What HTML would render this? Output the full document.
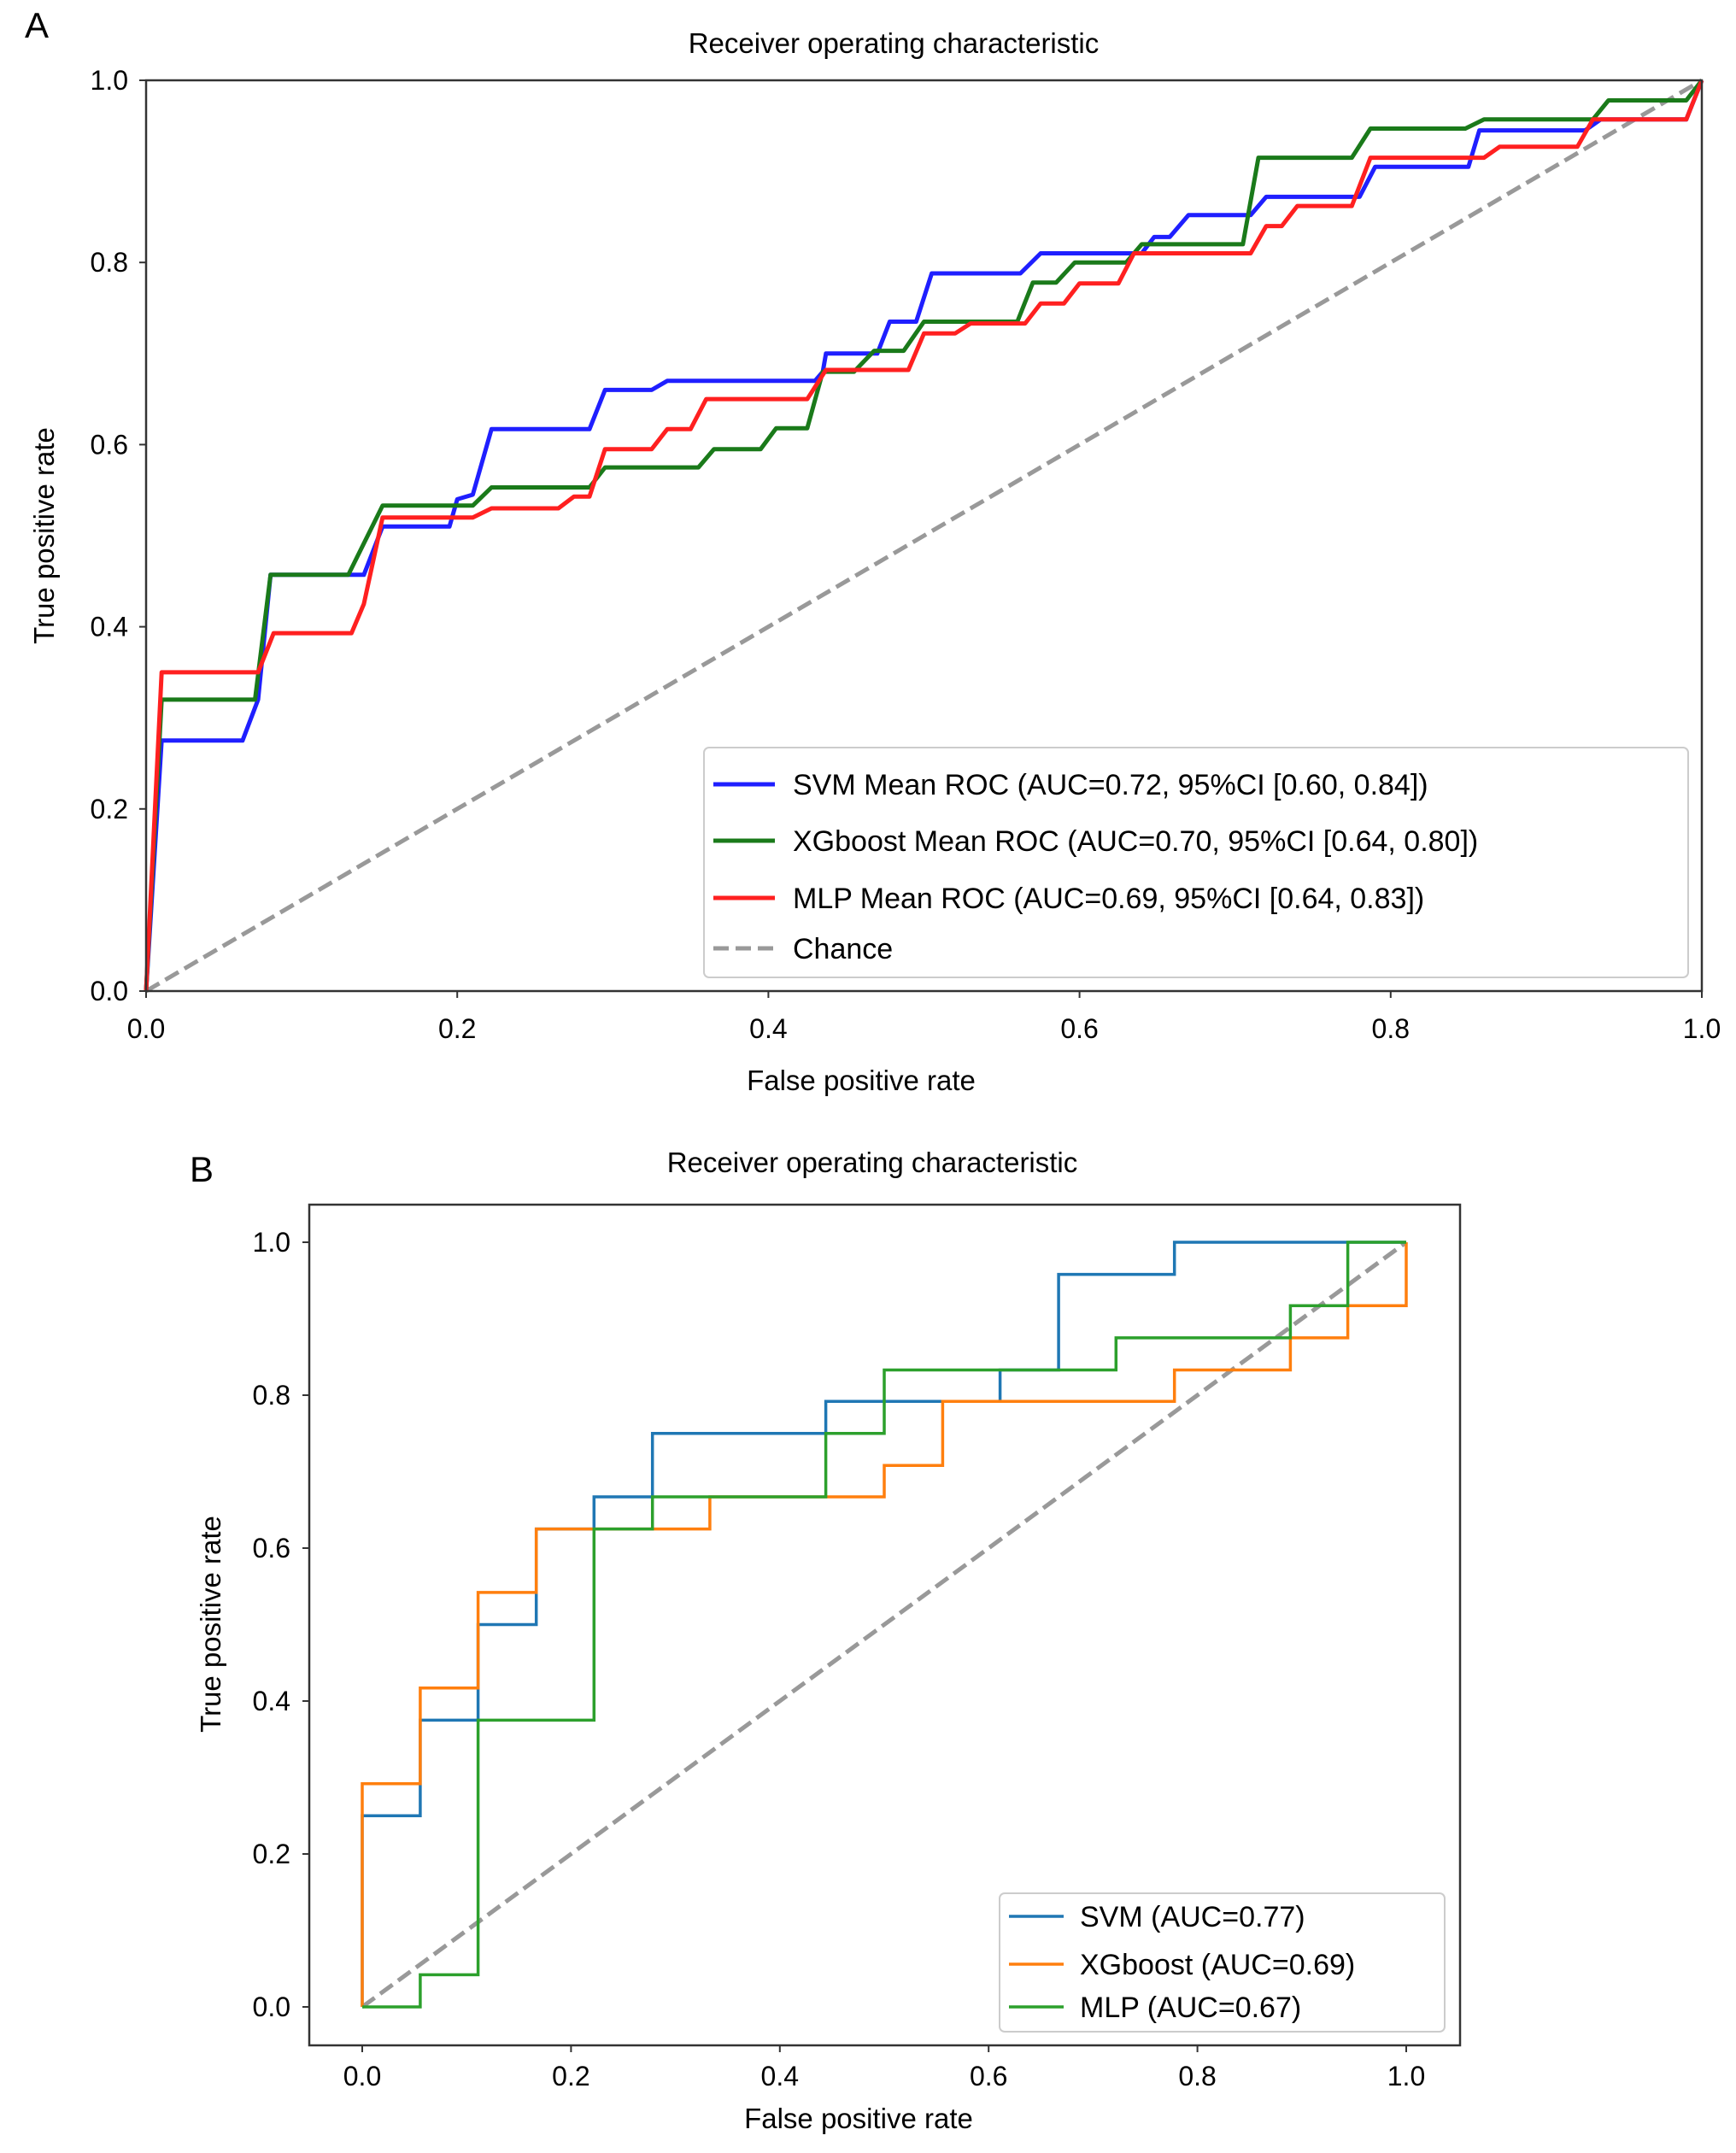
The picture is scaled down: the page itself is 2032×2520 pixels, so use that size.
<!DOCTYPE html>
<html><head><meta charset="utf-8">
<style>
html,body{margin:0;padding:0;background:#fff;}
svg{display:block;font-family:"Liberation Sans",sans-serif;}
</style></head>
<body>
<svg id="fig" width="2032" height="2520" viewBox="0 0 2032 2520" xmlns="http://www.w3.org/2000/svg"></svg>
<script>
// ===== Panel A data =====
const aSvmX=[0,0.01,0.062,0.072,0.08,0.14,0.152,0.195,0.2,0.21,0.222,0.285,0.295,0.325,0.335,0.43,0.435,0.437,0.47,0.478,0.495,0.505,0.562,0.575,0.64,0.648,0.658,0.67,0.71,0.72,0.78,0.79,0.85,0.857,0.925,0.935,0.99,1];
const aSvmY=[0,0.275,0.275,0.32,0.457,0.457,0.51,0.51,0.54,0.545,0.617,0.617,0.66,0.66,0.67,0.67,0.68,0.7,0.7,0.735,0.735,0.788,0.788,0.81,0.81,0.828,0.828,0.852,0.852,0.872,0.872,0.905,0.905,0.945,0.945,0.957,0.957,1];
const aXgbX=[0,0.01,0.07,0.08,0.13,0.152,0.21,0.222,0.285,0.295,0.355,0.365,0.395,0.405,0.425,0.435,0.455,0.468,0.487,0.5,0.56,0.57,0.585,0.597,0.63,0.64,0.705,0.715,0.775,0.787,0.848,0.86,0.93,0.94,0.99,1];
const aXgbY=[0,0.32,0.32,0.457,0.457,0.533,0.533,0.553,0.553,0.575,0.575,0.595,0.595,0.618,0.618,0.68,0.68,0.703,0.703,0.735,0.735,0.778,0.778,0.8,0.8,0.82,0.82,0.915,0.915,0.947,0.947,0.957,0.957,0.978,0.978,1];
const aMlpX=[0,0.01,0.072,0.082,0.132,0.14,0.152,0.21,0.222,0.265,0.275,0.285,0.295,0.325,0.335,0.35,0.36,0.425,0.437,0.49,0.5,0.52,0.53,0.565,0.575,0.59,0.6,0.625,0.635,0.71,0.72,0.73,0.74,0.775,0.787,0.86,0.87,0.92,0.93,0.99,1];
const aMlpY=[0,0.35,0.35,0.393,0.393,0.425,0.52,0.52,0.53,0.53,0.543,0.543,0.595,0.595,0.617,0.617,0.65,0.65,0.682,0.682,0.722,0.722,0.733,0.733,0.755,0.755,0.777,0.777,0.81,0.81,0.84,0.84,0.862,0.862,0.915,0.915,0.927,0.927,0.957,0.957,1];
const aTicks=[0,0.2,0.4,0.6,0.8,1.0];
const aTickLabels=["0.0","0.2","0.4","0.6","0.8","1.0"];
const aLegend=["SVM Mean ROC (AUC=0.72, 95%CI [0.60, 0.84])","XGboost Mean ROC (AUC=0.70, 95%CI [0.64, 0.80])","MLP Mean ROC (AUC=0.69, 95%CI [0.64, 0.83])","Chance"];
// ===== Panel B data =====
const bSvmX=[0,0,0.0556,0.0556,0.111,0.111,0.1667,0.1667,0.222,0.222,0.278,0.278,0.444,0.444,0.611,0.611,0.667,0.667,0.778,0.778,1];
const bSvmY=[0,0.25,0.25,0.375,0.375,0.5,0.5,0.625,0.625,0.667,0.667,0.75,0.75,0.792,0.792,0.833,0.833,0.958,0.958,1,1];
const bXgbX=[0,0,0.0556,0.0556,0.111,0.111,0.1667,0.1667,0.333,0.333,0.5,0.5,0.556,0.556,0.778,0.778,0.889,0.889,0.944,0.944,1,1];
const bXgbY=[0,0.292,0.292,0.417,0.417,0.542,0.542,0.625,0.625,0.667,0.667,0.708,0.708,0.792,0.792,0.833,0.833,0.875,0.875,0.917,0.917,1];
const bMlpX=[0,0.0556,0.0556,0.111,0.111,0.222,0.222,0.278,0.278,0.444,0.444,0.5,0.5,0.722,0.722,0.889,0.889,0.944,0.944,1];
const bMlpY=[0,0,0.042,0.042,0.375,0.375,0.625,0.625,0.667,0.667,0.75,0.75,0.833,0.833,0.875,0.875,0.917,0.917,1,1];
const bTicks=[0,0.2,0.4,0.6,0.8,1.0];
const bTickLabels=["0.0","0.2","0.4","0.6","0.8","1.0"];
const bLegend=["SVM (AUC=0.77)","XGboost (AUC=0.69)","MLP (AUC=0.67)"];

const NS="http://www.w3.org/2000/svg";
const svg=document.getElementById('fig');
function mk(tag,attrs,parent,text){const e=document.createElementNS(NS,tag);for(const k in attrs)e.setAttribute(k,attrs[k]);if(text!==undefined)e.textContent=text;(parent||svg).appendChild(e);return e;}

const AX0=171,AX1=1992,AY0=1160,AY1=94;
const ax=v=>AX0+v*(AX1-AX0), ay=v=>AY0-v*(AY0-AY1);
const BX0=424,BX1=1646,BY0=2349,BY1=1454;
const bx=v=>BX0+v*(BX1-BX0), by=v=>BY0-v*(BY0-BY1);

function pts(xs,ys,fx,fy){return xs.map((x,i)=>fx(x).toFixed(1)+','+fy(ys[i]).toFixed(1)).join(' ');}

let t;
t=mk('text',{x:29,y:44,'font-size':42},svg,'A');

t=mk('text',{x:1046,y:62,'font-size':33,'text-anchor':'middle'},svg,'Receiver operating characteristic');

let g=mk('g',{});

let e;
e=mk('line',{x1:ax(0),y1:ay(0),x2:ax(1),y2:ay(1),stroke:'#999',"stroke-width":5,"stroke-dasharray":"18,8"},g);

e=mk('polyline',{points:pts(aSvmX,aSvmY,ax,ay),fill:'none',stroke:'#1f1fff','stroke-width':5,'stroke-linejoin':'round'},g);

e=mk('polyline',{points:pts(aXgbX,aXgbY,ax,ay),fill:'none',stroke:'#1a7a1a','stroke-width':5,'stroke-linejoin':'round'},g);

e=mk('polyline',{points:pts(aMlpX,aMlpY,ax,ay),fill:'none',stroke:'#ff2020','stroke-width':5,'stroke-linejoin':'round'},g);

e=mk('rect',{x:AX0,y:AY1,width:AX1-AX0,height:AY0-AY1,fill:'none',stroke:'#333','stroke-width':2.5},g);

aTicks.forEach((v,i)=>{
  let l=mk('line',{x1:ax(v),y1:AY0,x2:ax(v),y2:AY0+8,stroke:'#333','stroke-width':2},g);
  
  let tx=mk('text',{x:ax(v),y:1215,'font-size':32,'text-anchor':'middle'},g,aTickLabels[i]);
  
  let l2=mk('line',{x1:AX0-8,y1:ay(v),x2:AX0,y2:ay(v),stroke:'#333','stroke-width':2},g);
  
  let ty=mk('text',{x:150,y:ay(v)+11,'font-size':32,'text-anchor':'end'},g,aTickLabels[i]);
  
});
t=mk('text',{x:1008,y:1276,'font-size':33,'text-anchor':'middle'},svg,'False positive rate');

t=mk('text',{x:0,y:0,'font-size':33,'text-anchor':'middle',transform:'translate(63,627) rotate(-90)'},svg,'True positive rate');

let lg=mk('g',{});

e=mk('rect',{x:824,y:875,width:1152,height:269,rx:6,fill:'#fff','fill-opacity':0.85,stroke:'#ccc','stroke-width':2},lg);

const aCols=['#1f1fff','#1a7a1a','#ff2020','#999'];
const aLy=[918,984,1051,1110];
aLegend.forEach((s,i)=>{
  let l=mk('line',{x1:835,y1:aLy[i],x2:907,y2:aLy[i],stroke:aCols[i],'stroke-width':5},lg);
  if(i===3)l.setAttribute('stroke-dasharray','18,8');
  
  let tx=mk('text',{x:928,y:aLy[i]+12,'font-size':34},lg,s);
  
});

t=mk('text',{x:222,y:1383,'font-size':42},svg,'B');

t=mk('text',{x:1021,y:1372,'font-size':33,'text-anchor':'middle'},svg,'Receiver operating characteristic');

let gb=mk('g',{});

e=mk('line',{x1:bx(0),y1:by(0),x2:bx(1),y2:by(1),stroke:'#999','stroke-width':5,'stroke-dasharray':'18,8'},gb);

e=mk('polyline',{points:pts(bSvmX,bSvmY,bx,by),fill:'none',stroke:'#1f77b4','stroke-width':3.5},gb);

e=mk('polyline',{points:pts(bXgbX,bXgbY,bx,by),fill:'none',stroke:'#ff7f0e','stroke-width':3.5},gb);

e=mk('polyline',{points:pts(bMlpX,bMlpY,bx,by),fill:'none',stroke:'#2ca02c','stroke-width':3.5},gb);

e=mk('rect',{x:362,y:1410,width:1347,height:984,fill:'none',stroke:'#333','stroke-width':2.5},gb);

bTicks.forEach((v,i)=>{
  let l=mk('line',{x1:bx(v),y1:2394,x2:bx(v),y2:2402,stroke:'#333','stroke-width':2},gb);
  
  let tx=mk('text',{x:bx(v),y:2441,'font-size':32,'text-anchor':'middle'},gb,bTickLabels[i]);
  
  let l2=mk('line',{x1:354,y1:by(v),x2:362,y2:by(v),stroke:'#333','stroke-width':2},gb);
  
  let ty=mk('text',{x:340,y:by(v)+11,'font-size':32,'text-anchor':'end'},gb,bTickLabels[i]);
  
});
t=mk('text',{x:1005,y:2491,'font-size':33,'text-anchor':'middle'},svg,'False positive rate');

t=mk('text',{x:0,y:0,'font-size':33,'text-anchor':'middle',transform:'translate(258,1901) rotate(-90)'},svg,'True positive rate');

let lb=mk('g',{});

e=mk('rect',{x:1170,y:2216,width:521,height:162,rx:6,fill:'#fff','fill-opacity':0.85,stroke:'#ccc','stroke-width':2},lb);

const bCols=['#1f77b4','#ff7f0e','#2ca02c'];
const bLy=[2243,2299,2349];
bLegend.forEach((s,i)=>{
  let l=mk('line',{x1:1181,y1:bLy[i],x2:1245,y2:bLy[i],stroke:bCols[i],'stroke-width':3.5},lb);
  
  let tx=mk('text',{x:1264,y:bLy[i]+12,'font-size':34},lb,s);
  
});
</script>
</body></html>
